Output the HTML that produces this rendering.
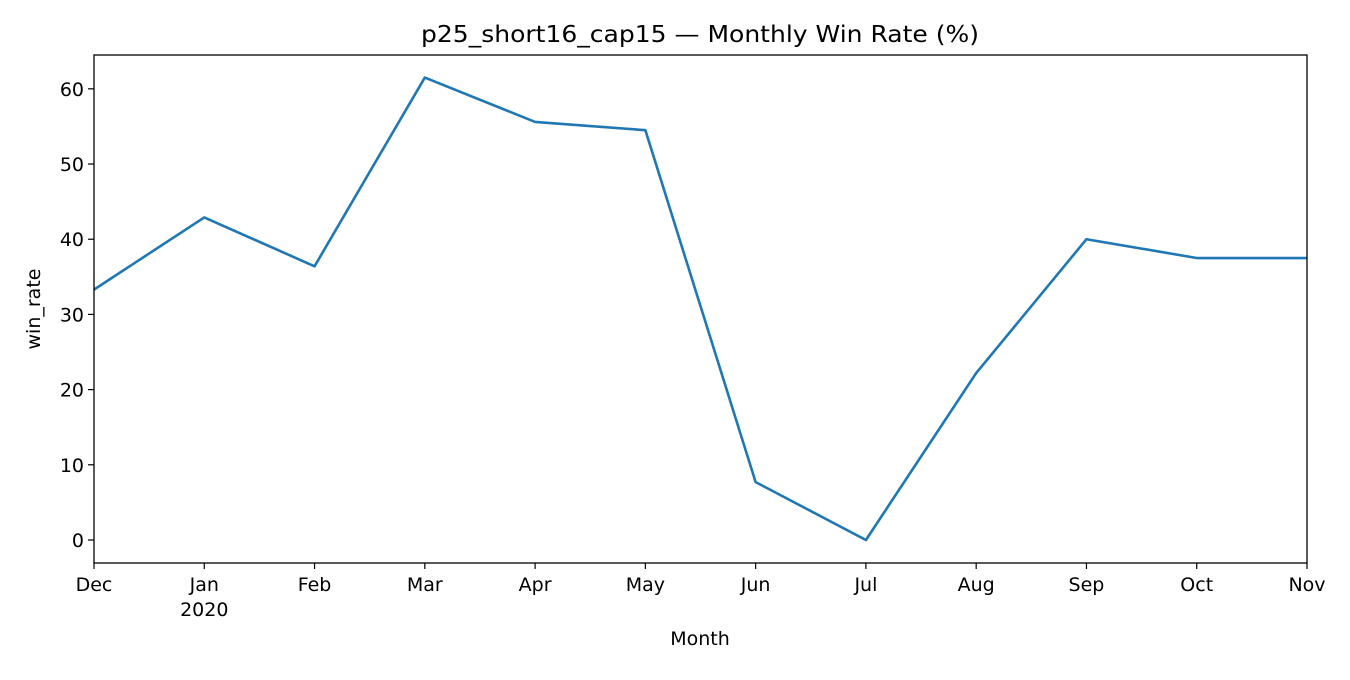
<!DOCTYPE html>
<html><head><meta charset="utf-8"><style>
body{margin:0;background:#fff;}
svg text{font-family:"DejaVu Sans","Liberation Sans",sans-serif;fill:#000;}
</style></head><body>
<svg id="chart" width="1350" height="675" xmlns="http://www.w3.org/2000/svg">
<rect width="1350" height="675" fill="#fff"/>
<text x="700" y="42" font-size="23" text-anchor="middle" textLength="558" lengthAdjust="spacingAndGlyphs">p25_short16_cap15 — Monthly Win Rate (%)</text>
<g id="axes"></g>
<rect x="94" y="55" width="1213" height="508" fill="none" stroke="#000" stroke-width="1.3"/>
<text x="700" y="645" font-size="19" text-anchor="middle">Month</text>
<text x="40" y="309" font-size="19" text-anchor="middle" transform="rotate(-90 40 309)">win_rate</text>
</svg>
<script>
const months=["Dec","Jan","Feb","Mar","Apr","May","Jun","Jul","Aug","Sep","Oct","Nov"];
const winRate=[33.3,42.9,36.4,61.5,55.6,54.5,7.7,0,22.2,40.0,37.5,37.5];
const yTicks=[0,10,20,30,40,50,60];
const L=94,R=1307,T=55,B=563,yMin=-3.06,yMax=64.5;
const x=i=>L+(R-L)*i/(months.length-1);
const y=v=>B-(v-yMin)/(yMax-yMin)*(B-T);
const NS="http://www.w3.org/2000/svg";
const g=document.getElementById('axes');
function mk(t,a){const e=document.createElementNS(NS,t);for(const k in a)e.setAttribute(k,a[k]);g.appendChild(e);return e;}
yTicks.forEach(v=>{
 const l=mk('line',{x1:L-6,x2:L,y1:y(v),y2:y(v),stroke:'#000','stroke-width':1.2});
 
 
 const t=mk('text',{x:L-10,y:y(v)+7,'font-size':19,'text-anchor':'end'});t.textContent=v;
 
 
});
months.forEach((m,i)=>{
 const l=mk('line',{x1:x(i),x2:x(i),y1:B,y2:B+6,stroke:'#000','stroke-width':1.2});
 
 
 const t=mk('text',{x:x(i),y:B+28,'font-size':19,'text-anchor':'middle'});t.textContent=m;
 
 
 if(m==="Jan"){const t2=mk('text',{x:x(i),y:B+53,'font-size':19,'text-anchor':'middle'});t2.textContent="2020";
 
 }
});
const p=mk('polyline',{points:winRate.map((v,i)=>x(i)+','+y(v)).join(' '),fill:'none',stroke:'#1f77b4','stroke-width':2.6,'stroke-linejoin':'round'});


</script>
</body></html>
